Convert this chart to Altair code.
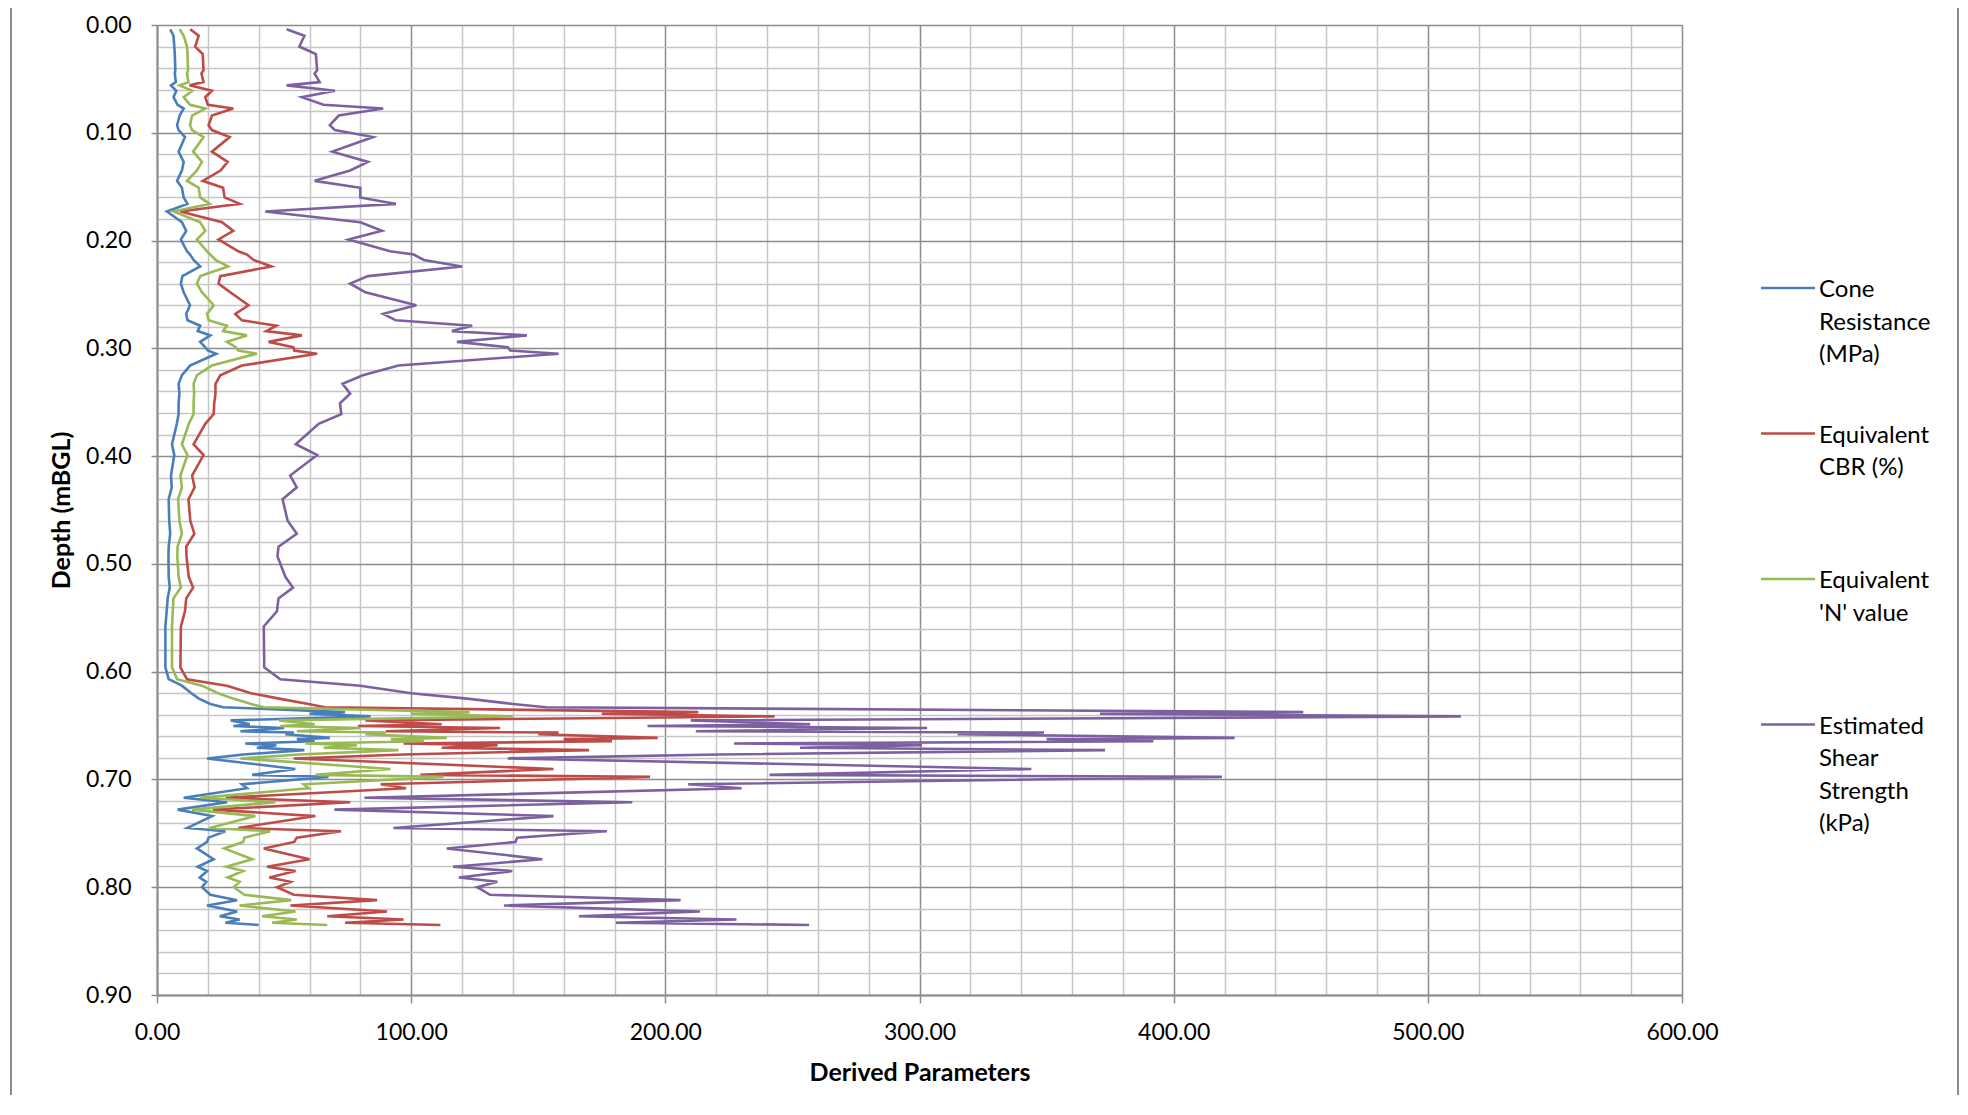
import altair as alt
import pandas as pd

# ---------------- data ----------------
DEPTH = [
    0.004, 0.010, 0.020, 0.027, 0.042, 0.045, 0.053, 0.056, 0.061, 0.067,
    0.074, 0.0775, 0.084, 0.093, 0.0975, 0.104, 0.1175, 0.127, 0.135, 0.1446,
    0.151, 0.160, 0.166, 0.173, 0.183, 0.191, 0.199, 0.210, 0.213, 0.218,
    0.224, 0.233, 0.240, 0.248, 0.260, 0.268, 0.274, 0.279, 0.284, 0.288,
    0.294, 0.299, 0.302, 0.305, 0.316, 0.325, 0.333, 0.342, 0.351,
    0.361, 0.370, 0.389, 0.399, 0.418, 0.429, 0.440, 0.460, 0.472, 0.484,
    0.493, 0.512, 0.522, 0.532, 0.544, 0.558, 0.596, 0.607, 0.613, 0.620,
    0.625, 0.630, 0.633,
    0.6375, 0.6390, 0.6415, 0.6452, 0.6488, 0.6504, 0.6522, 0.6553, 0.6565, 0.6580,
    0.6614, 0.6626, 0.6645, 0.6667, 0.6682, 0.6706, 0.6728, 0.6768, 0.6805, 0.6903,
    0.6958, 0.6976, 0.7045, 0.7082, 0.717, 0.7211, 0.728, 0.734, 0.745, 0.748,
    0.754, 0.758, 0.764, 0.774, 0.781, 0.785, 0.791, 0.795, 0.800, 0.807,
    0.812, 0.817, 0.8225, 0.827, 0.830, 0.833, 0.835,
]

CONE = [
    5.2, 6.5, 6.8, 7.0, 7.2, 7.0, 7.4, 5.5, 7.6, 6.5,
    8.1, 10.5, 8.9, 7.9, 8.5, 11.0, 8.5, 10.5, 9.8, 7.9,
    9.8, 10.5, 12.0, 3.9, 9.8, 11.5, 9.4, 11.8, 13.0, 14.4,
    17.0, 10.0, 9.4, 10.5, 13.0, 11.5, 12.0, 17.0, 16.0, 21.0,
    17.0, 19.0, 20.0, 23.3, 13.0, 9.8, 8.5, 8.8, 8.5,
    8.5, 7.8, 5.9, 6.8, 5.5, 5.8, 4.6, 4.8, 5.2, 4.6,
    4.5, 4.6, 5.0, 4.2, 3.8, 3.3, 3.3, 4.6, 9.8, 13.5,
    16.5, 21.0, 26.0,
    74.0, 60.0, 84.0, 29.0, 36.5, 30.0, 50.0, 32.8, 53.8, 50.5,
    68.0, 55.0, 62.0, 34.7, 47.0, 39.3, 58.0, 34.0, 19.7, 54.4,
    37.4, 67.5, 33.4, 35.4, 10.5, 27.6, 8.1, 21.7, 12.0, 26.9,
    20.3, 19.7, 15.7, 22.3, 16.0, 19.7, 16.8, 19.4, 17.7, 21.0,
    31.5, 19.7, 31.5, 24.7, 32.5, 26.9, 40.0,
]

CBR = [
    13.1, 16.4, 15.0, 18.0, 18.3, 17.5, 18.3, 12.8, 21.6, 19.0,
    20.0, 30.0, 21.6, 20.3, 21.6, 28.6, 21.6, 27.8, 25.0, 18.0,
    26.0, 26.6, 32.5, 9.2, 25.6, 30.0, 24.2, 32.0, 35.4, 38.0,
    45.0, 24.9, 24.2, 28.8, 36.0, 30.8, 33.4, 47.0, 43.0, 57.0,
    43.9, 53.7, 54.0, 63.0, 33.4, 24.9, 23.0, 23.0, 22.5,
    22.3, 19.0, 14.4, 18.3, 13.8, 14.8, 12.4, 13.1, 14.7, 11.5,
    11.6, 12.5, 14.2, 11.5, 11.0, 9.4, 9.2, 11.8, 27.5, 37.0,
    48.0, 59.6, 66.0,
    213.0, 175.0, 243.0, 82.0, 112.0, 79.0, 135.0, 90.0, 158.0, 150.0,
    197.0, 160.0, 179.0, 97.0, 134.0, 112.0, 170.0, 97.0, 53.8, 156.0,
    103.6, 194.0, 88.0, 98.0, 27.0, 76.0, 22.0, 62.3, 32.0, 72.4,
    55.0, 54.0, 42.0, 60.0, 43.3, 54.5, 44.2, 52.5, 47.2, 53.8,
    86.6, 52.5, 90.5, 67.0, 97.0, 74.0, 111.5,
]

NVAL = [
    8.9, 10.5, 11.8, 12.0, 12.2, 11.8, 12.4, 8.9, 13.8, 10.5,
    13.0, 19.0, 13.8, 13.0, 13.8, 18.3, 14.2, 17.7, 15.7, 11.8,
    16.4, 17.0, 20.7, 6.5, 17.0, 19.0, 15.7, 19.7, 21.0, 23.0,
    28.0, 17.0, 15.7, 17.7, 22.3, 19.7, 20.3, 27.5, 26.0, 35.4,
    27.5, 31.0, 32.0, 39.3, 21.6, 15.7, 14.4, 14.6, 14.4,
    14.4, 12.5, 9.8, 12.0, 9.2, 9.8, 8.3, 8.8, 9.8, 8.1,
    8.0, 8.5, 9.4, 6.5, 6.2, 5.9, 5.9, 7.9, 17.7, 24.0,
    30.0, 37.0, 42.0,
    123.0, 100.0, 140.0, 48.0, 62.0, 48.5, 80.0, 55.0, 90.0, 82.0,
    114.0, 92.0, 105.0, 58.4, 78.7, 65.6, 95.0, 56.0, 32.8, 91.8,
    62.3, 112.8, 57.7, 59.7, 17.0, 46.6, 13.8, 38.7, 20.7, 44.6,
    34.4, 33.9, 26.5, 37.4, 27.3, 33.9, 27.8, 32.5, 30.2, 34.4,
    52.8, 32.5, 54.5, 41.3, 55.0, 45.3, 67.0,
]

SHEAR = [
    51.0, 58.0, 56.0, 62.5, 63.0, 62.0, 64.0, 51.0, 70.0, 57.0,
    65.5, 89.0, 71.5, 68.0, 70.0, 85.0, 69.0, 83.0, 76.0, 62.0,
    80.0, 80.0, 94.0, 42.6, 80.0, 88.5, 75.4, 91.7, 101.0, 105.0,
    120.0, 83.0, 76.0, 82.0, 102.0, 89.0, 94.0, 124.0, 116.0, 145.5,
    118.0, 138.0, 139.0, 158.0, 95.0, 81.0, 73.0, 76.0, 72.0,
    72.5, 63.6, 54.6, 63.0, 52.4, 55.0, 49.4, 51.4, 55.0, 47.8,
    47.4, 50.5, 53.5, 47.8, 47.2, 42.0, 42.2, 48.5, 80.0, 100.0,
    122.0, 140.0, 153.0,
    451.0, 371.0, 513.0, 210.0, 257.0, 193.0, 303.0, 212.0, 349.0, 315.0,
    424.0, 350.0, 392.0, 227.0, 301.0, 253.0, 373.0, 221.0, 138.0, 344.0,
    241.0, 419.0, 209.0, 230.0, 81.6, 187.0, 69.8, 156.0, 93.0, 177.0,
    141.7, 141.0, 114.0, 151.6, 116.5, 139.8, 118.8, 133.9, 126.0, 131.0,
    206.0, 136.5, 213.6, 166.0, 228.0, 180.6, 256.6,
]

SERIES = [
    "Cone Resistance (MPa)",
    "Equivalent CBR (%)",
    "Equivalent 'N' value",
    "Estimated Shear Strength (kPa)",
]
LEGEND_LINES = [
    ["Cone", "Resistance", "(MPa)"],
    ["Equivalent", "CBR (%)"],
    ["Equivalent", "'N' value"],
    ["Estimated", "Shear", "Strength", "(kPa)"],
]
COLORS = ["#4A7EBB", "#BE4B48", "#98B954", "#7D60A0"]

X_MAJOR = [0, 100, 200, 300, 400, 500, 600]
X_MINOR = [v for v in range(0, 601, 20) if v % 100 != 0]
Y_MAJOR = [0.0, 0.1, 0.2, 0.3, 0.4, 0.5, 0.6, 0.7, 0.8, 0.9]
Y_MINOR = [round(i * 0.02, 2) for i in range(46) if i % 5 != 0]

# ---------------- layout / style ----------------
W, H = 1525, 970
TOP_PAD = 17
FONT = "Lato"
MAJOR_GRID = "#8C8C8C"
MINOR_GRID = "#C6C6C6"

rows = []
for name, vals in zip(SERIES, [CONE, CBR, NVAL, SHEAR]):
    for d, v in zip(DEPTH, vals):
        rows.append({"series": name, "depth": d, "value": v})
df = pd.DataFrame(rows)

x_scale = alt.Scale(domain=[0, 600], nice=False, zero=False)
y_scale = alt.Scale(domain=[0, 0.9], nice=False, zero=False, reverse=True)
color_scale = alt.Scale(domain=SERIES, range=COLORS)

x_major_axis = alt.Axis(
    orient="bottom", values=X_MAJOR, format=".2f", title="Derived Parameters",
    grid=True, gridColor=MAJOR_GRID, gridWidth=1.5,
    domainColor=MAJOR_GRID, domainWidth=2,
    ticks=True, tickColor=MAJOR_GRID, tickSize=8, tickWidth=1.5,
    labelFont=FONT, labelFontSize=23, labelColor="black", labelPadding=18,
    labelFlush=False, labelOverlap=False,
    titleFont=FONT, titleFontSize=25, titleFontWeight="bold", titleColor="black",
    titleX=W / 2, titleY=77, titleBaseline="middle", titleAlign="center",
)
y_major_axis = alt.Axis(
    orient="left", values=Y_MAJOR, format=".2f", title="Depth (mBGL)",
    grid=True, gridColor=MAJOR_GRID, gridWidth=1.5,
    domainColor=MAJOR_GRID, domainWidth=2,
    ticks=True, tickColor=MAJOR_GRID, tickSize=6, tickWidth=1.5,
    labelFont=FONT, labelFontSize=23, labelColor="black", labelPadding=20,
    labelFlush=False, labelOverlap=False,
    titleFont=FONT, titleFontSize=25, titleFontWeight="bold", titleColor="black",
    titleX=-96, titleY=H / 2, titleBaseline="middle", titleAlign="center", titleAngle=270,
)
x_minor_axis = alt.Axis(
    orient="bottom", values=X_MINOR, grid=True, gridColor=MINOR_GRID, gridWidth=1.5,
    labels=False, ticks=False, domain=False, title=None,
)
y_minor_axis = alt.Axis(
    orient="left", values=Y_MINOR, grid=True, gridColor=MINOR_GRID, gridWidth=1.5,
    labels=False, ticks=False, domain=False, title=None,
)

# minor grid carrier (invisible)
minor = alt.Chart(df).mark_line(strokeOpacity=0).encode(
    x=alt.X("value:Q", scale=x_scale, axis=x_minor_axis),
    y=alt.Y("depth:Q", scale=y_scale, axis=y_minor_axis),
    detail="series:N",
    order=alt.Order("depth:Q"),
)

series_layers = []
for name in SERIES:
    sub = df[df["series"] == name]
    series_layers.append(
        alt.Chart(sub).mark_line(strokeWidth=2.6).encode(
            x=alt.X("value:Q", scale=x_scale, axis=x_major_axis),
            y=alt.Y("depth:Q", scale=y_scale, axis=y_major_axis),
            color=alt.Color("series:N", scale=color_scale, legend=None),
            order=alt.Order("depth:Q"),
        )
    )
data_layer = alt.layer(*series_layers)

# manual legend (to the right of the plot)
one = pd.DataFrame({"k": [0]})
LEG_X1, LEG_X2, LEG_TX = 1604, 1658, 1662
LEG_Y0, LEG_STEP = 263, 145.5
legend_layers = []
for i, (lines, col) in enumerate(zip(LEGEND_LINES, COLORS)):
    ly = LEG_Y0 + i * LEG_STEP
    legend_layers.append(
        alt.Chart(one).mark_rule(color=col, strokeWidth=2.5).encode(
            x=alt.value(LEG_X1), x2=alt.value(LEG_X2), y=alt.value(ly)
        )
    )
    legend_layers.append(
        alt.Chart(one).mark_text(
            text=lines, align="left", baseline="top", font=FONT, fontSize=24,
            lineHeight=32.5, color="black",
        ).encode(x=alt.value(LEG_TX), y=alt.value(ly - 10))
    )

# chart-area frame (left and right edges)
frame_layers = [
    alt.Chart(one).mark_rule(color="#8C8C8C", strokeWidth=2).encode(
        x=alt.value(xv), y=alt.value(-40), y2=alt.value(1110)
    )
    for xv in (-146, 1801)
]

chart = (
    alt.layer(minor, data_layer, *legend_layers, *frame_layers)
    .resolve_axis(x="independent", y="independent")
    .properties(
        width=W, height=H,
        autosize=alt.AutoSizeParams(type="none"),
        padding={"left": 149, "top": TOP_PAD, "right": 278, "bottom": 100},
    )
    .configure_view(stroke=None)
    .configure(background="white")
)

chart.save("out.html", embed_options={"renderer": "svg", "actions": False})
